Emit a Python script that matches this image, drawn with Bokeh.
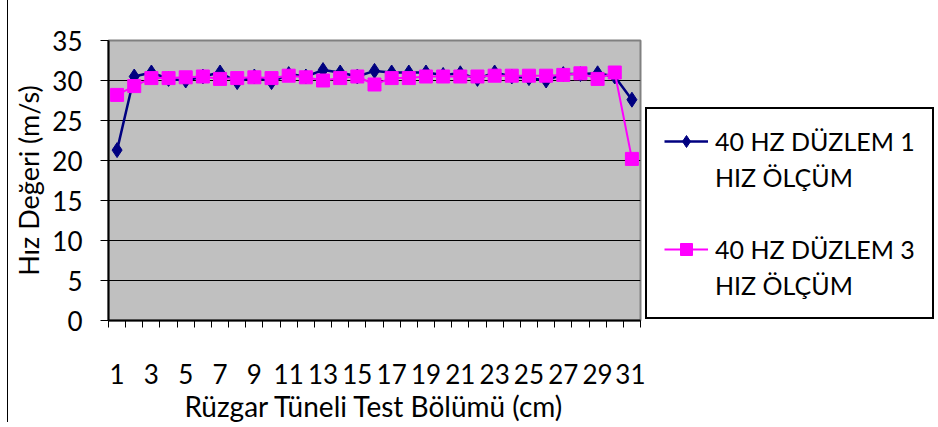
from bokeh.plotting import figure
from bokeh.layouts import row
from bokeh.models import Range1d, FixedTicker, Legend, LegendItem
from bokeh.embed import file_html
from bokeh.resources import INLINE

positions = list(range(1, 32))
tick_positions = list(range(1, 32, 2))
duzlem1 = [21.3, 30.5, 31.0, 30.2, 30.0, 30.5, 31.0, 29.8, 30.5, 29.8,
           30.8, 30.5, 31.3, 31.0, 30.5, 31.2, 31.0, 31.0, 31.0, 30.7,
           30.9, 30.2, 31.0, 30.5, 30.3, 30.0, 30.8, 30.8, 30.9, 30.5, 27.6]
duzlem3 = [28.2, 29.3, 30.3, 30.3, 30.4, 30.5, 30.2, 30.3, 30.4, 30.3,
           30.6, 30.4, 30.0, 30.3, 30.5, 29.5, 30.3, 30.3, 30.5, 30.5,
           30.5, 30.5, 30.6, 30.6, 30.6, 30.6, 30.7, 30.9, 30.2, 31.0, 20.2]
y_ticks = [0, 5, 10, 15, 20, 25, 30, 35]
label1 = "40 HZ DÜZLEM 1"
label1b = "HIZ ÖLÇÜM"
label3 = "40 HZ DÜZLEM 3"
label3b = "HIZ ÖLÇÜM"
x_title = "Rüzgar Tüneli Test Bölümü (cm)"
y_title = "Hız Değeri (m/s)"

FONT = "Lato"
NAVY = "#000080"
MAGENTA = "#FF00FF"

p = figure(width=645, height=427, output_backend="svg", toolbar_location=None,
           x_range=Range1d(0.5, 31.5), y_range=Range1d(0, 35),
           min_border_left=108, min_border_right=5, min_border_top=40,
           min_border_bottom=107)
p.background_fill_color = "#C0C0C0"
p.border_fill_color = "white"
p.border_fill_alpha = 0
p.outline_line_color = "#808080"
p.outline_line_width = 2
p.styles = {
    "background-color": "white",
    "background-image": "linear-gradient(to right, transparent 7px, black 7px, black 8px, transparent 8px)",
    "background-size": "100% 422px",
    "background-repeat": "no-repeat",
}

# axes
p.yaxis.ticker = FixedTicker(ticks=y_ticks)
p.yaxis.axis_line_width = 2
p.yaxis.axis_line_color = "black"
p.yaxis.major_tick_out = 8
p.yaxis.major_tick_in = 0
p.yaxis.minor_tick_line_color = None
p.yaxis.major_label_text_font = FONT
p.yaxis.major_label_text_font_size = "26px"
p.yaxis.major_label_text_color = "black"
p.yaxis.major_label_standoff = 18
p.yaxis.axis_label = y_title
p.yaxis.axis_label_text_font = FONT
p.yaxis.axis_label_text_font_size = "27px"
p.yaxis.axis_label_text_font_style = "normal"
p.yaxis.axis_label_text_color = "black"
p.yaxis.axis_label_standoff = 4

minor = [i - 0.5 for i in positions] + [positions[-1] + 0.5]
p.xaxis.ticker = FixedTicker(ticks=tick_positions, minor_ticks=minor)
p.xaxis.axis_line_width = 2
p.xaxis.axis_line_color = "black"
p.xaxis.major_tick_out = 0
p.xaxis.major_tick_in = 0
p.xaxis.minor_tick_out = 7
p.xaxis.minor_tick_in = 0
p.xaxis.minor_tick_line_color = "black"
p.xaxis.major_label_text_font = FONT
p.xaxis.major_label_text_font_size = "26px"
p.xaxis.major_label_text_color = "black"
p.xaxis.major_label_standoff = 36
p.xaxis.axis_label = x_title
p.xaxis.axis_label_text_font = FONT
p.xaxis.axis_label_text_font_size = "28px"
p.xaxis.axis_label_text_font_style = "normal"
p.xaxis.axis_label_text_color = "black"
p.xaxis.axis_label_standoff = 2

p.xgrid.visible = False
p.ygrid.ticker = FixedTicker(ticks=y_ticks)
p.ygrid.grid_line_color = "black"
p.ygrid.grid_line_width = 1

# series
p.line(positions, duzlem1, line_color=NAVY, line_width=2.5)
p.scatter(positions, duzlem1, marker="diamond", size=15,
          fill_color=NAVY, line_color=NAVY)
p.line(positions, duzlem3, line_color=MAGENTA, line_width=2)
p.scatter(positions, duzlem3, marker="square", size=13,
          fill_color=MAGENTA, line_color=MAGENTA)

# legend panel (separate figure so the legend is not clipped);
# its ranges keep the series themselves out of view, only the legend shows
q = figure(width=293, height=427, output_backend="svg", toolbar_location=None,
           x_range=Range1d(1000, 1001), y_range=Range1d(1000, 1001),
           x_axis_location=None, y_axis_location=None,
           min_border_left=0, min_border_right=0, min_border_top=0,
           min_border_bottom=0)
q.grid.visible = False
q.outline_line_color = None
q.background_fill_color = "white"
q.border_fill_color = "white"

ql1 = q.line(positions, duzlem1, line_color=NAVY, line_width=2.5)
qm1 = q.scatter(positions, duzlem1, marker="diamond", size=15, fill_color=NAVY, line_color=NAVY)
ql3 = q.line(positions, duzlem3, line_color=MAGENTA, line_width=2)
qm3 = q.scatter(positions, duzlem3, marker="square", size=13, fill_color=MAGENTA, line_color=MAGENTA)
blank = q.line(positions, duzlem1, line_alpha=0)

legend = Legend(items=[
    LegendItem(label=label1, renderers=[ql1, qm1]),
    LegendItem(label=label1b, renderers=[blank]),
    LegendItem(label=" ", renderers=[blank]),
    LegendItem(label=label3, renderers=[ql3, qm3]),
    LegendItem(label=label3b, renderers=[blank]),
], location=(0, 1))
legend.label_text_font = FONT
legend.label_text_font_size = "25px"
legend.label_text_color = "black"
legend.label_height = 30
legend.glyph_height = 30
legend.glyph_width = 44
legend.label_standoff = 7
legend.spacing = 6
legend.padding = 17
legend.margin = 0
legend.border_line_color = "black"
legend.border_line_alpha = 1
legend.border_line_width = 2
legend.background_fill_color = "white"
legend.background_fill_alpha = 1
q.add_layout(legend, "center")

layout = row(p, q, spacing=0)
open("out.html", "w").write(file_html(layout, INLINE))
